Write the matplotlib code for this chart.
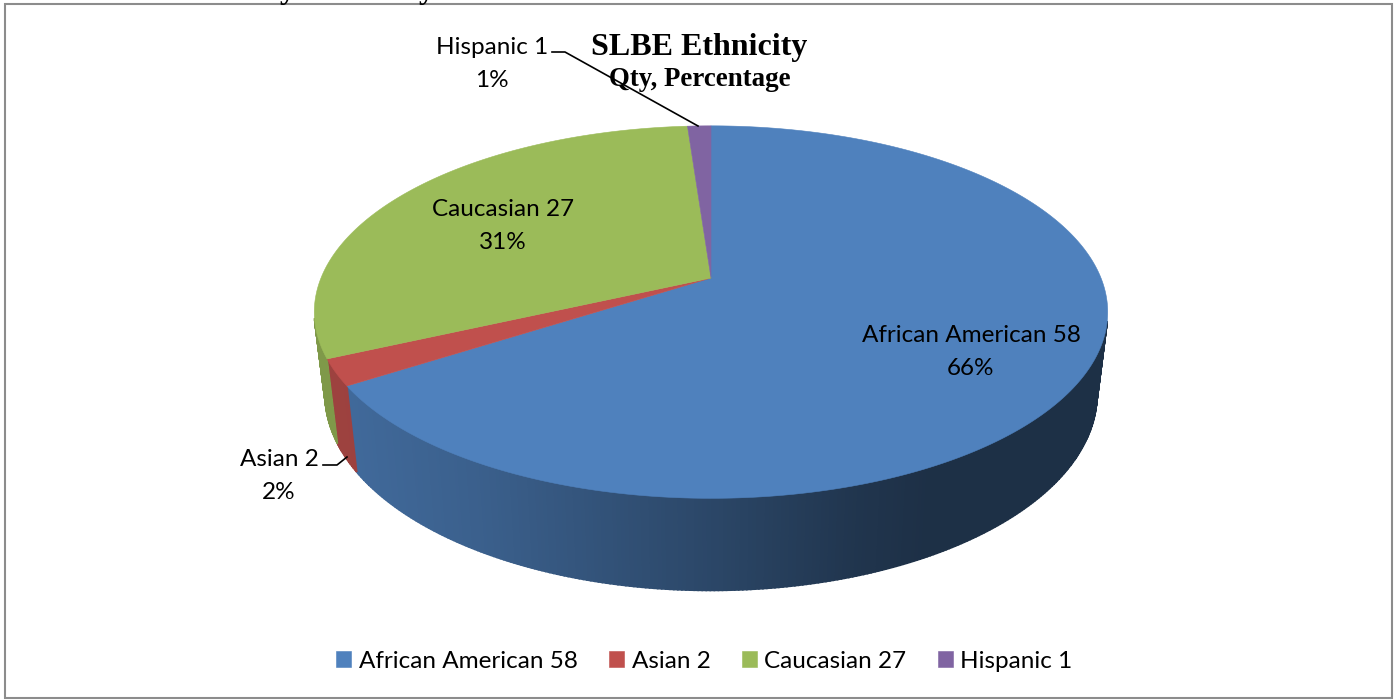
import numpy as np
import matplotlib
matplotlib.use('Agg')
import matplotlib.pyplot as plt
from matplotlib.colors import to_rgb

names = ['African American', 'Asian', 'Caucasian', 'Hispanic']
qty = [58, 2, 27, 1]
top_colors = ['#4F81BD', '#C0504D', '#9BBB59', '#8064A2']

# how the wall of the pie is lit, left to right (pixel x, brightness)
shade_x = [340, 480, 600, 720, 860, 930, 1110]
shade_v = [0.82, 0.74, 0.64, 0.54, 0.41, 0.37, 0.37]

plt.rcParams['font.family'] = ['Lato', 'DejaVu Sans']

# tilted disc: unit circle seen in perspective, then moved to pixels
CX, CY = 711, 278
SX, SY = 390, 180
K = 0.183


def project(x, y):
    w = 1 + K * y
    return CX + SX * x / w, CY - SY * y / w


def drop(px, py):
    # same point on the lower rim of the disc
    return CX + 0.973 * (px - CX), 1.054 * py + 65.2


def arc(start, end):
    n = max(int((end - start) * 2), 2)
    a = np.radians(np.linspace(start, end, n))
    return project(np.sin(a), np.cos(a))


fig = plt.figure(figsize=(13.95, 7), dpi=100)
ax = fig.add_axes([0, 0, 1, 1])
ax.set_xlim(0, 1395)
ax.set_ylim(700, 0)
ax.axis('off')

total = sum(qty)
edges = np.cumsum([0] + qty) / total * 360

# walls first, the top face goes over them
for i in range(len(qty)):
    px, py = arc(edges[i], edges[i + 1])
    qx, qy = drop(px, py)
    base = np.array(to_rgb(top_colors[i]))
    for j in range(len(px) - 1):
        if py[j] < 320:
            continue  # back of the disc, hidden anyway
        s = np.interp((px[j] + px[j + 1]) / 2, shade_x, shade_v)
        ax.fill([px[j], px[j + 1], qx[j + 1], qx[j]],
                [py[j], py[j + 1], qy[j + 1], qy[j]],
                color=base * s, lw=1.2, zorder=2)

handles = []
for i in range(len(qty)):
    px, py = arc(edges[i], edges[i + 1])
    h = ax.fill(np.r_[CX, px], np.r_[CY, py], color=top_colors[i], lw=0.4,
                zorder=3, label=names[i] + ' ' + str(qty[i]))
    handles.append(h[0])

# data labels
label_pos = [(971, 352), (279, 476), (503, 226), (492, 64)]
for i in range(len(qty)):
    pct = round(qty[i] / total * 100)
    ax.text(label_pos[i][0], label_pos[i][1],
            names[i] + ' ' + str(qty[i]) + '\n' + str(pct) + '%',
            ha='center', va='center', fontsize=17.5, color='black',
            linespacing=1.65, zorder=5)

# leader lines
ax.plot([552, 565, 698], [52, 52, 126], color='black', lw=1.2, zorder=4)
ax.plot([323, 337, 347], [465, 465, 457], color='black', lw=1.2, zorder=4)

ax.text(699, 47, 'SLBE Ethnicity', ha='center', va='center', fontsize=23,
        family='Liberation Serif', weight='bold', zorder=5)
ax.text(700, 80, 'Qty, Percentage', ha='center', va='center', fontsize=19.4,
        family='Liberation Serif', weight='bold', zorder=5)

leg = ax.legend(handles=handles, loc='center', ncol=4, frameon=False,
                bbox_to_anchor=(704.5 / 1395, 1 - 661 / 700), fontsize=17.5,
                handlelength=0.62, handleheight=0.62, handletextpad=0.3,
                columnspacing=1.3, borderpad=0)

# frame of the chart, the page text above it is cut off
ax.add_patch(plt.Rectangle((5, 4), 1387, 694, fill=False, ec='#8C8C8C', lw=1.5,
                           zorder=1))
for x in [288, 427]:
    ax.text(x, -2, 'y', ha='center', va='baseline', fontsize=23,
            family='Liberation Serif', weight='bold')

fig.savefig('out.png', dpi=100)
